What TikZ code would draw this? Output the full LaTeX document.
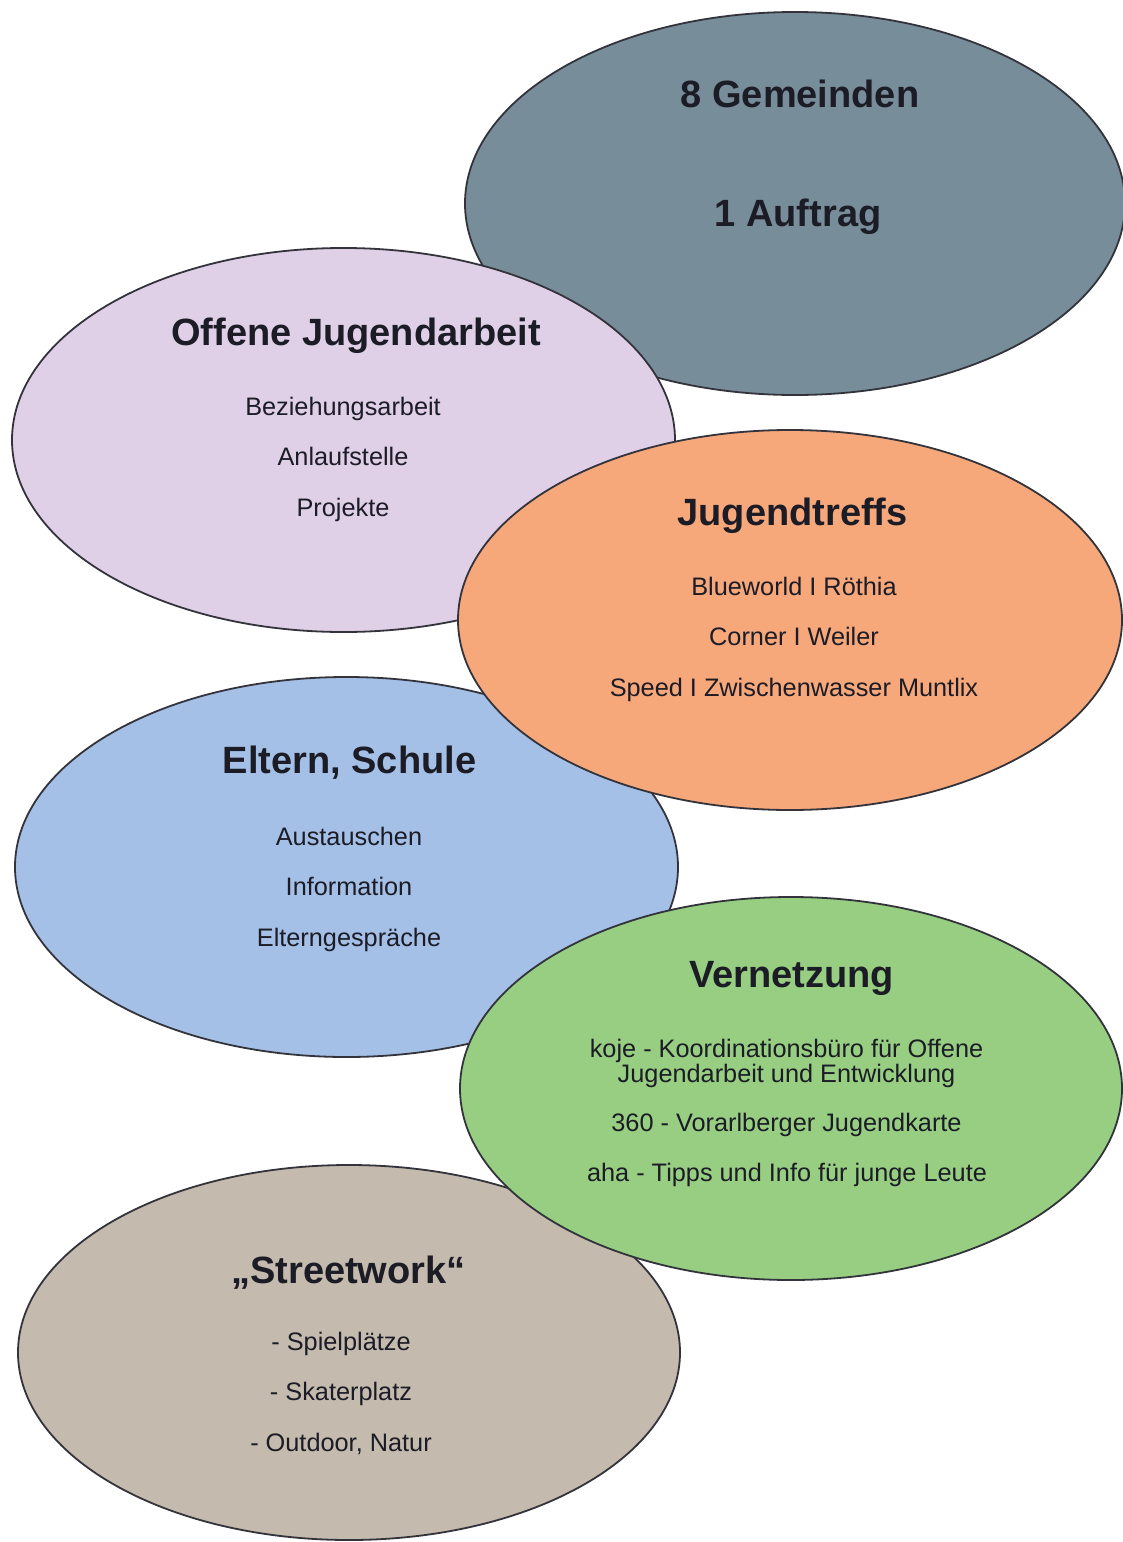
\documentclass[tikz,border=0pt]{standalone}
\usepackage{fontspec}
\setmainfont{Liberation Sans}
\usepackage{tikz}
\usetikzlibrary{shapes.geometric}
\usepackage{xcolor}
\definecolor{slate}{HTML}{778D99}
\definecolor{lilac}{HTML}{E0D0E7}
\definecolor{apricot}{HTML}{F6A87B}
\definecolor{sky}{HTML}{A4C0E6}
\definecolor{leaf}{HTML}{97CE82}
\definecolor{sand}{HTML}{C4BAAD}
\definecolor{ink}{HTML}{1C1C26}
\begin{document}
\begin{tikzpicture}[x=1pt,y=-1pt,
		%Option for the bubbles%
		bubble/.style={ellipse,draw=ink!90,line width=1.8pt,
			inner sep=0pt,outer sep=0pt},%
		title/.style={anchor=base,text=ink,
			font=\fontsize{38}{44}\selectfont\bfseries},%
		item/.style={anchor=base,text=ink,
			font=\fontsize{25.3}{28}\selectfont}%
		]
		%% some definitions
		\def\dy{50.5}     % item spacing
		%
		\useasboundingbox (0,0) rectangle (1122,1542);
		%
	%% the bubbles, back to front
	\node[bubble,fill=slate,minimum width=660pt,minimum height=383pt] (gem) at (795,203.5) {};
	\node[bubble,fill=lilac,minimum width=663pt,minimum height=384pt] (oja) at (343.5,440) {};
	\node[bubble,fill=sky,minimum width=663pt,minimum height=380pt] (elt) at (346.5,867) {};
	\node[bubble,fill=apricot,minimum width=664pt,minimum height=380pt] (jtr) at (790,620) {};
	\node[bubble,fill=sand,minimum width=662pt,minimum height=375pt] (str) at (349,1352.5) {};
	\node[bubble,fill=leaf,minimum width=662pt,minimum height=383pt] (ver) at (791,1088.5) {};
	
	%% 8 Gemeinden
	\node[title] (gem-t) at (800,107) {8 Gemeinden};
	\node[title] (gem-a) at (798,226) {1 Auftrag};
	
	%% Offene Jugendarbeit
	\node[title] (oja-t) at (356,345) {Offene Jugendarbeit};
	\foreach \t [count=\i] in {Beziehungsarbeit,Anlaufstelle,Projekte}
		\node[item] (oja-\i) at (343,{415+(\i-1)*\dy}) {\t};
	
	%% Jugendtreffs
	\node[title] (jtr-t) at (792.5,525) {Jugendtreffs};
	\foreach \t [count=\i] in {Blueworld I Röthia,Corner I Weiler,Speed I Zwischenwasser Muntlix}
		\node[item] (jtr-\i) at (794,{595+(\i-1)*\dy}) {\t};
	
	%% Eltern, Schule
	\node[title] (elt-t) at (349.5,773) {Eltern, Schule};
	\foreach \t [count=\i] in {Austauschen,Information,Elterngespräche}
		\node[item] (elt-\i) at (349,{845+(\i-1)*\dy}) {\t};
	
	%% Vernetzung
	\node[title] (ver-t) at (791.5,987) {Vernetzung};
	\node[item] (ver-1) at (786.5,1057) {koje - Koordinationsbüro für Offene};
	\node[item] (ver-1b) at (786.5,1082) {Jugendarbeit und Entwicklung};
	\node[item] (ver-2) at (786.5,1131) {360 - Vorarlberger Jugendkarte};
	\node[item] (ver-3) at (787,1181) {aha - Tipps und Info für junge Leute};
	
	%% Streetwork
	\node[title] (str-t) at (348.5,1283) {„Streetwork“};
	\foreach \t [count=\i] in {- Spielplätze,- Skaterplatz,{- Outdoor, Natur}}
		\node[item] (str-\i) at (341,{1350+(\i-1)*\dy}) {\t};

	\end{tikzpicture}
\end{document}
